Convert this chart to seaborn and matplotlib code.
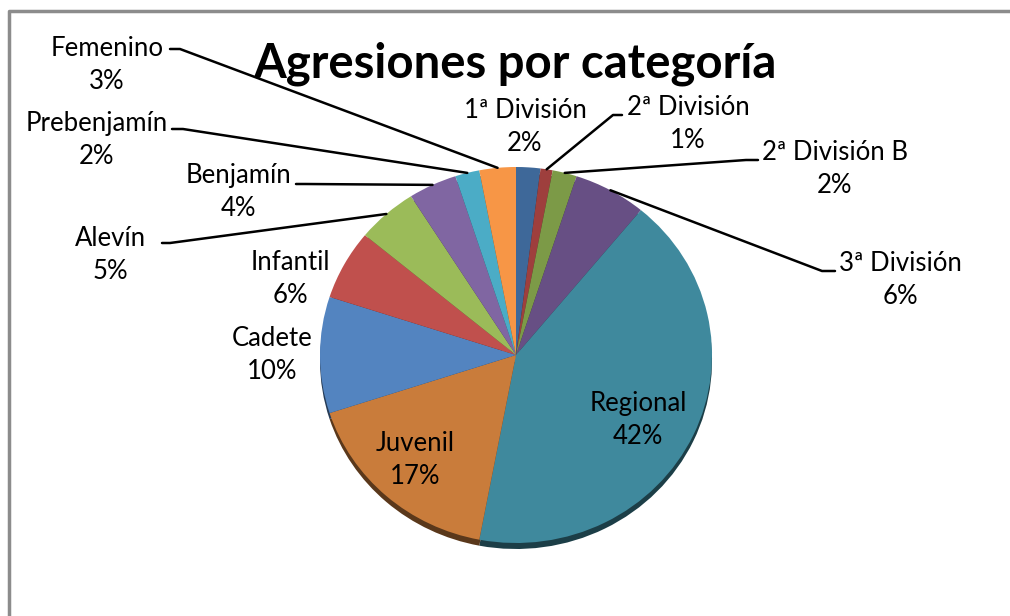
"""Agresiones por categoría: Excel-style pie with leader lines."""
import matplotlib
matplotlib.use("Agg")
import matplotlib.pyplot as plt
import numpy as np
import seaborn as sns
from matplotlib.colors import to_rgb

# data, clockwise from 12 o'clock
categories = ["1ª División", "2ª División", "2ª División B", "3ª División", "Regional", "Juvenil",
              "Cadete", "Infantil", "Alevín", "Benjamín", "Prebenjamín", "Femenino"]
percent = [2, 1, 2, 6, 42, 17, 10, 6, 5, 4, 2, 3]
colors = ["#3E6899", "#9E3F3D", "#7C9A47", "#674F84", "#3F899D", "#C97C3B",
          "#5384C0", "#C0504D", "#9BBB59", "#8066A2", "#4BACC6", "#F79646"]
title = "Agresiones por categoría"

sns.set_theme(style="white")
plt.rcParams["font.family"] = ["Lato", "DejaVu Sans"]

W, H = 1010, 616
fig = plt.figure(figsize=(W / 100, H / 100), dpi=100, facecolor="white")

# pie axes: slightly squashed ellipse, centre (516, 355) px, rx 196, ry 188
cx, cy, rx, ry = 516, 355, 196, 188
pie_ax = fig.add_axes([(cx - rx) / W, (H - cy - ry * 1.05) / H, 2 * rx / W, 2.05 * ry / H])

# 3D-ish side / shadow: same pie, darker, shifted down
dark = [tuple(c * 0.45 for c in to_rgb(col)) for col in colors]
pie_ax.pie(percent, colors=dark, startangle=90, counterclock=False, radius=1,
           center=(0, -6 / ry), frame=False, wedgeprops=dict(linewidth=0))
wedges, _ = pie_ax.pie(percent, colors=colors, startangle=90, counterclock=False, radius=1,
                       frame=False, wedgeprops=dict(linewidth=0))
pie_ax.set_aspect("auto")
pie_ax.set_xlim(-1, 1)
pie_ax.set_ylim(-1.05, 1)
pie_ax.axis("off")

# overlay in pixel coordinates (y down)
ov = fig.add_axes([0, 0, 1, 1])
ov.set_xlim(0, W)
ov.set_ylim(H, 0)
ov.axis("off")
ov.patch.set_alpha(0)

# frame of the chart area
ov.plot([9, 9, W], [H, 11, 11], color="#8C8C8C", lw=2.5, solid_capstyle="butt")

ov.text(515, 64, title, ha="center", va="center", fontsize=34, fontweight="bold", color="black")

# label layout: block centre, and optional leader (label end, elbow)
label_pos = {
    "1ª División": (525, 127), "2ª División": (688, 124), "2ª División B": (835, 169),
    "3ª División": (900, 280), "Regional": (638, 420), "Juvenil": (415, 460),
    "Cadete": (272, 355), "Infantil": (290, 279), "Alevín": (110, 255),
    "Benjamín": (238, 192), "Prebenjamín": (97, 140), "Femenino": (107, 65),
}
leaders = {
    "Femenino": [(170, 49), (180, 49)],
    "Prebenjamín": [(172, 129), (183, 129)],
    "Benjamín": [(296, 184), (305, 184)],
    "Alevín": [(162, 243), (170, 243)],
    "2ª División": [(622, 115), (613, 115)],
    "2ª División B": [(758, 160), (746, 160)],
    "3ª División": [(835, 271), (822, 271)],
}

to_ov = ov.transData.inverted()
for w, cat, p in zip(wedges, categories, percent):
    x, y = label_pos[cat]
    ov.text(x, y, f"{cat}\n{p}%", ha="center", va="center", fontsize=18.5,
            linespacing=1.42, color="black")
    if cat in leaders:
        mid = np.deg2rad((w.theta1 + w.theta2) / 2)
        rim = to_ov.transform(pie_ax.transData.transform((np.cos(mid), np.sin(mid))))
        pts = leaders[cat] + [tuple(rim)]
        ov.plot([q[0] for q in pts], [q[1] for q in pts], color="black", lw=1.8)

fig.savefig("out.png", dpi=100, facecolor="white")
